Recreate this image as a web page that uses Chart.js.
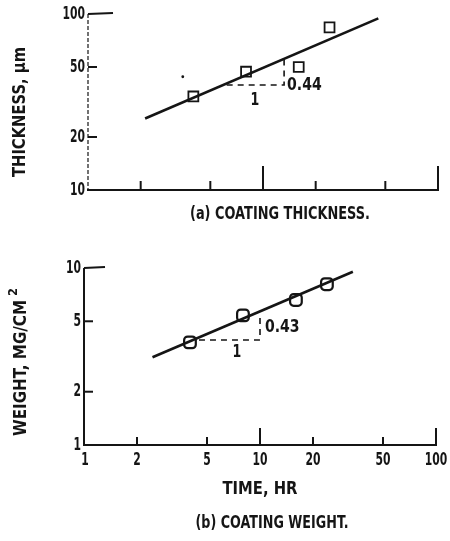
<!DOCTYPE html>
<html>
<head>
<meta charset="utf-8">
<script src="https://cdn.jsdelivr.net/npm/chart.js@4.4.1/dist/chart.umd.min.js"></script>
<style>
  html, body { margin: 0; padding: 0; background: #fff; }
  #wrap { position: relative; width: 450px; height: 541px; }
  canvas { position: absolute; left: 0; }
  #thick { top: 0; }
  #weight { top: 230px; }
</style>
</head>
<body>
<div id="wrap">
  <canvas id="thick" width="450" height="230"></canvas>
  <canvas id="weight" width="450" height="311"></canvas>
</div>
<script>
// measured points, time in hours
const hours = [4, 8, 16, 24];
const thickness = [34, 47, 50, 84];   // um
const weight = [3.8, 5.4, 6.6, 8.1];  // mg/cm2

// fitted lines (end points)
const thickFitX = [2.12, 45.6];
const thickFitY = [25.5, 94.5];
const weightFitX = [2.45, 33.7];
const weightFitY = [3.13, 9.53];

// slope triangles
const thickSlopeX = [6.2, 13.2, 13.2];
const thickSlopeY = [39.5, 39.5, 55.5];
const weightSlopeX = [4.5, 10, 10];
const weightSlopeY = [3.92, 3.92, 5.5];

// stray speck in the scan
const speckX = [3.48];
const speckY = [44];

// ticks
const timeTicks = [1, 2, 5, 10, 20, 50, 100];
const thickTicks = [10, 20, 50, 100];
const weightTicks = [1, 2, 5, 10];

const INK = '#151515';
const FONT = "'DejaVu Sans', sans-serif";

// draw bold text squeezed horizontally (condensed lettering look)
function squeeze(ctx, text, x, y, size, sx, align) {
  ctx.save();
  ctx.font = `bold ${size}px ${FONT}`;
  ctx.fillStyle = INK;
  ctx.textBaseline = 'middle';
  ctx.textAlign = align || 'center';
  ctx.translate(x, y);
  ctx.scale(sx, 1);
  ctx.fillText(text, 0, 0);
  ctx.restore();
}

function fitText(ctx, text, x, y, size, width, rot) {
  ctx.save();
  ctx.font = `bold ${size}px ${FONT}`;
  const w = ctx.measureText(text).width;
  ctx.fillStyle = INK;
  ctx.textBaseline = 'middle';
  ctx.textAlign = 'center';
  ctx.translate(x, y);
  if (rot) ctx.rotate(rot);
  ctx.scale(width / w, 1);
  ctx.fillText(text, 0, 0);
  ctx.restore();
}

function line(ctx, x1, y1, x2, y2, w, dash) {
  ctx.save();
  ctx.strokeStyle = INK;
  ctx.lineWidth = w;
  ctx.setLineDash(dash || []);
  ctx.beginPath();
  ctx.moveTo(x1, y1);
  ctx.lineTo(x2, y2);
  ctx.stroke();
  ctx.restore();
}

function drawAxes(chart, cfg) {
  const ctx = chart.ctx;
  const xs = chart.scales.x, ys = chart.scales.y;
  const a = chart.chartArea;

  // spines
  line(ctx, a.left, a.top, a.left, a.bottom, cfg.leftWidth, cfg.leftDash);
  line(ctx, a.left, a.top, a.left + cfg.stub, a.top - 1, 2);
  line(ctx, a.left - 1, a.bottom, a.right + 1, a.bottom, 2);

  // x ticks point up into the plot
  timeTicks.forEach(v => {
    if (v === 1) return;
    const px = xs.getPixelForValue(v);
    const len = (v === 10 || v === 100) ? cfg.majorLen : cfg.minorLen;
    line(ctx, px, a.bottom, px, a.bottom - len, 2);
    if (cfg.xLabels) squeeze(ctx, String(v), px, a.bottom + 15, 18, 0.6);
  });
  if (cfg.xLabels) squeeze(ctx, '1', a.left + 1, a.bottom + 15, 18, 0.6);

  // y ticks point right
  cfg.yTicks.forEach((v, i) => {
    const py = ys.getPixelForValue(v);
    if (i > 0 && i < cfg.yTicks.length - 1) line(ctx, a.left, py, a.left + 9, py, 2);
    squeeze(ctx, String(v), a.left - cfg.labelGap, py, 18, 0.6, 'right');
  });

  // slope labels
  cfg.notes.forEach(n => {
    const px = xs.getPixelForValue(n.x) + (n.dx || 0);
    const py = ys.getPixelForValue(n.y) + (n.dy || 0);
    squeeze(ctx, n.text, px, py, 18, n.sx || 0.7, n.align);
  });

  // axis titles and caption
  cfg.texts.forEach(t => fitText(ctx, t.text, t.x, t.y, t.size, t.w, t.rot));
}

function pts(xv, yv) {
  return xv.map((x, i) => ({ x: x, y: yv[i] }));
}

function panel(id, cfg) {
  return new Chart(document.getElementById(id), {
    type: 'scatter',
    data: {
      datasets: [
        {
          data: pts(cfg.fitX, cfg.fitY), showLine: true, pointRadius: 0,
          borderColor: INK, borderWidth: 2.6
        },
        {
          data: pts(cfg.slopeX, cfg.slopeY), showLine: true, pointRadius: 0,
          borderColor: INK, borderWidth: 1.6, borderDash: [6, 5]
        },
        {
          data: pts(hours, cfg.values), pointStyle: cfg.marker, pointRadius: cfg.markerSize,
          backgroundColor: '#fff', borderColor: INK, borderWidth: cfg.markerWidth
        },
        {
          data: pts(cfg.speckX, cfg.speckY), pointRadius: cfg.speckX.length ? 1.4 : 0,
          backgroundColor: INK, borderWidth: 0
        }
      ]
    },
    options: {
      responsive: false,
      animation: false,
      layout: { padding: cfg.padding },
      plugins: { legend: { display: false }, tooltip: { enabled: false } },
      scales: {
        x: { type: 'logarithmic', min: 1, max: 100, display: false },
        y: { type: 'logarithmic', min: cfg.yTicks[0], max: cfg.yTicks[cfg.yTicks.length - 1], display: false }
      }
    },
    plugins: [{ id: 'paperAxes', afterDraw: chart => drawAxes(chart, cfg) }]
  });
}

panel('thick', {
  padding: { left: 88, right: 12, top: 14, bottom: 40 },
  fitX: thickFitX, fitY: thickFitY,
  slopeX: thickSlopeX, slopeY: thickSlopeY,
  values: thickness, speckX: speckX, speckY: speckY,
  marker: 'rect', markerSize: 7, markerWidth: 1.8,
  yTicks: thickTicks, xLabels: false, labelGap: 3,
  leftWidth: 1.2, leftDash: [4, 2], stub: 25,
  majorLen: 24, minorLen: 9,
  notes: [
    { text: '0.44', x: 13.2, y: 39.5, dx: 3, dy: 0, align: 'left', sx: 0.78 },
    { text: '1', x: 9.0, y: 39.5, dy: 15 }
  ],
  texts: [
    { text: 'THICKNESS, \u00b5m', x: 21, y: 112, size: 17, w: 130, rot: -Math.PI / 2 },
    { text: '(a) COATING THICKNESS.', x: 280, y: 215, size: 17, w: 180 }
  ]
});

panel('weight', {
  padding: { left: 84, right: 14, top: 38, bottom: 96 },
  fitX: weightFitX, fitY: weightFitY,
  slopeX: weightSlopeX, slopeY: weightSlopeY,
  values: weight, speckX: [], speckY: [],
  marker: 'rectRounded', markerSize: 6.8, markerWidth: 2.2,
  yTicks: weightTicks, xLabels: true, labelGap: 3,
  leftWidth: 2, leftDash: [], stub: 21,
  majorLen: 17, minorLen: 8,
  notes: [
    { text: '0.43', x: 10, y: 4.6, dx: 5, dy: 0, align: 'left', sx: 0.78 },
    { text: '1', x: 7.4, y: 3.92, dy: 12 }
  ],
  texts: [
    { text: 'WEIGHT, MG/CM', x: 22, y: 138, size: 17, w: 136, rot: -Math.PI / 2 },
    { text: '2', x: 14, y: 62, size: 13, w: 8, rot: -Math.PI / 2 },
    { text: 'TIME, HR', x: 260, y: 260, size: 17, w: 75 },
    { text: '(b) COATING WEIGHT.', x: 272, y: 294, size: 17, w: 153 }
  ]
});
</script>
</body>
</html>
